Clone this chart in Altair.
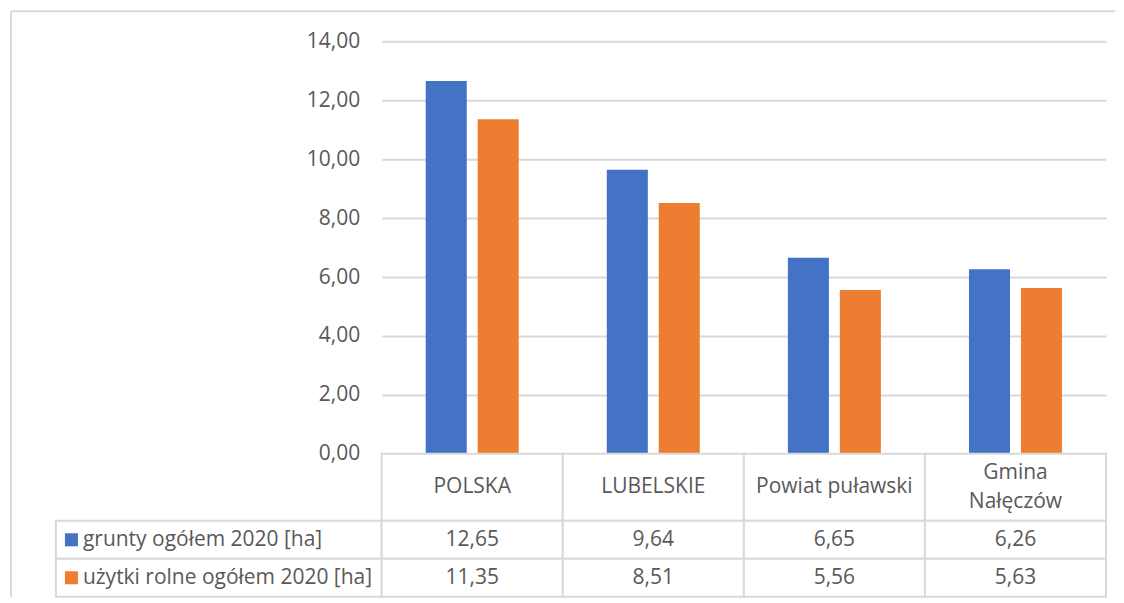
import altair as alt
import pandas as pd

# ---- data ----
categories = ["POLSKA", "LUBELSKIE", "Powiat puławski", "Gmina Nałęczów"]
header_labels = ["POLSKA", "LUBELSKIE", "Powiat puławski", "Gmina\nNałęczów"]
series = ["grunty ogółem 2020 [ha]", "użytki rolne ogółem 2020 [ha]"]
grunty = [12.65, 9.64, 6.65, 6.26]
uzytki = [11.35, 8.51, 5.56, 5.63]
y_ticks = [0, 2, 4, 6, 8, 10, 12, 14]
colors = ["#4472C4", "#ED7D31"]

rows = []
for c, g, u in zip(categories, grunty, uzytki):
    rows.append({"category": c, "series": series[0], "value": g})
    rows.append({"category": c, "series": series[1], "value": u})
df = pd.DataFrame(rows)
hdr_df = pd.DataFrame({"category": categories, "label": header_labels})
leg_df = pd.DataFrame({"series": series})
one = pd.DataFrame({"k": [0]})

FONT = "Open Sans"
FS = 21
TXT = "#595959"
GRID = "#d9d9d9"
LW = 2
LH = 29

LEFT_W = 326
PLOT_W = 725
BAR_H = 413
HDR_H = 67
TBL_H = 76

xscale = alt.Scale(domain=categories, paddingInner=0, paddingOuter=0)
cscale = alt.Scale(domain=series, range=colors)
rowscale = alt.Scale(domain=series, paddingInner=0, paddingOuter=0)

comma_fmt = "replace(format(datum.value, '.2f'), '.', ',')"

# ---- bar chart ----
bars = alt.Chart(df).mark_bar().encode(
    x=alt.X("category:N", sort=categories, scale=xscale, axis=None),
    xOffset=alt.XOffset("series:N", sort=series,
                        scale=alt.Scale(domain=series, paddingInner=0.21, paddingOuter=0.848)),
    y=alt.Y("value:Q", scale=alt.Scale(domain=[0, 14], nice=False),
            axis=alt.Axis(values=y_ticks, labelExpr=comma_fmt, title=None,
                          ticks=False, domain=False, grid=True, gridColor=GRID,
                          gridWidth=LW, labelPadding=22)),
    color=alt.Color("series:N", sort=series, scale=cscale, legend=None),
).properties(width=PLOT_W, height=BAR_H)

# ---- frame + blanks ----
frame_top = alt.Chart(one).mark_rule(color=GRID, strokeWidth=LW).encode(
    x=alt.value(-45), x2=alt.value(1060), y=alt.value(-30))
frame_left = alt.Chart(one).mark_rule(color=GRID, strokeWidth=LW).encode(
    x=alt.value(-45), y=alt.value(-30), y2=alt.value(BAR_H + HDR_H + TBL_H))
blank1 = alt.layer(frame_top, frame_left).properties(width=LEFT_W, height=BAR_H)
blank2 = alt.Chart(one).mark_point(opacity=0).properties(width=LEFT_W, height=HDR_H)

# ---- header row ----
hb = alt.Chart(hdr_df).encode(x=alt.X("category:N", sort=categories, scale=xscale, axis=None))
single = "indexof(datum.label, '\\n') < 0"
multi = "indexof(datum.label, '\\n') >= 0"
header = alt.layer(
    hb.mark_rect(fill="white", stroke=GRID, strokeWidth=LW),
    hb.transform_filter(single).mark_text(
        font=FONT, fontSize=FS, color=TXT).encode(text="label:N"),
    hb.transform_filter(multi).mark_text(
        lineBreak="\n", lineHeight=LH, dy=-LH / 2, font=FONT, fontSize=FS, color=TXT
    ).encode(text="label:N"),
).properties(width=PLOT_W, height=HDR_H)

# ---- values table ----
vb = alt.Chart(df).transform_calculate(
    label=comma_fmt
).encode(
    x=alt.X("category:N", sort=categories, scale=xscale, axis=None),
    y=alt.Y("series:N", sort=series, scale=rowscale, axis=None),
)
values = alt.layer(
    vb.mark_rect(fill="white", stroke=GRID, strokeWidth=LW),
    vb.mark_text(font=FONT, fontSize=FS, color=TXT).encode(text="label:N"),
).properties(width=PLOT_W, height=TBL_H)

# ---- legend column ----
lb = alt.Chart(leg_df).encode(y=alt.Y("series:N", sort=series, scale=rowscale, axis=None))
legend_col = alt.layer(
    lb.mark_rect(fill="white", stroke=GRID, strokeWidth=LW),
    lb.mark_point(shape="square", filled=True, size=170, opacity=1).encode(
        x=alt.value(15.5),
        color=alt.Color("series:N", sort=series, scale=cscale, legend=None)),
    lb.mark_text(align="left", font=FONT, fontSize=FS, color=TXT).encode(
        x=alt.value(27), text="series:N"),
).properties(width=LEFT_W, height=TBL_H)

chart = alt.concat(
    blank1, bars, blank2, header, legend_col, values,
    columns=2, spacing=0, bounds="flush", align="each",
).properties(
    padding={"left": 2, "top": 2, "right": 0, "bottom": 0},
    background="white",
).configure_view(stroke=None).configure_axis(
    labelFont=FONT, labelFontSize=FS, labelColor=TXT
)

chart.save("out.html", embed_options={"renderer": "svg", "actions": False})
